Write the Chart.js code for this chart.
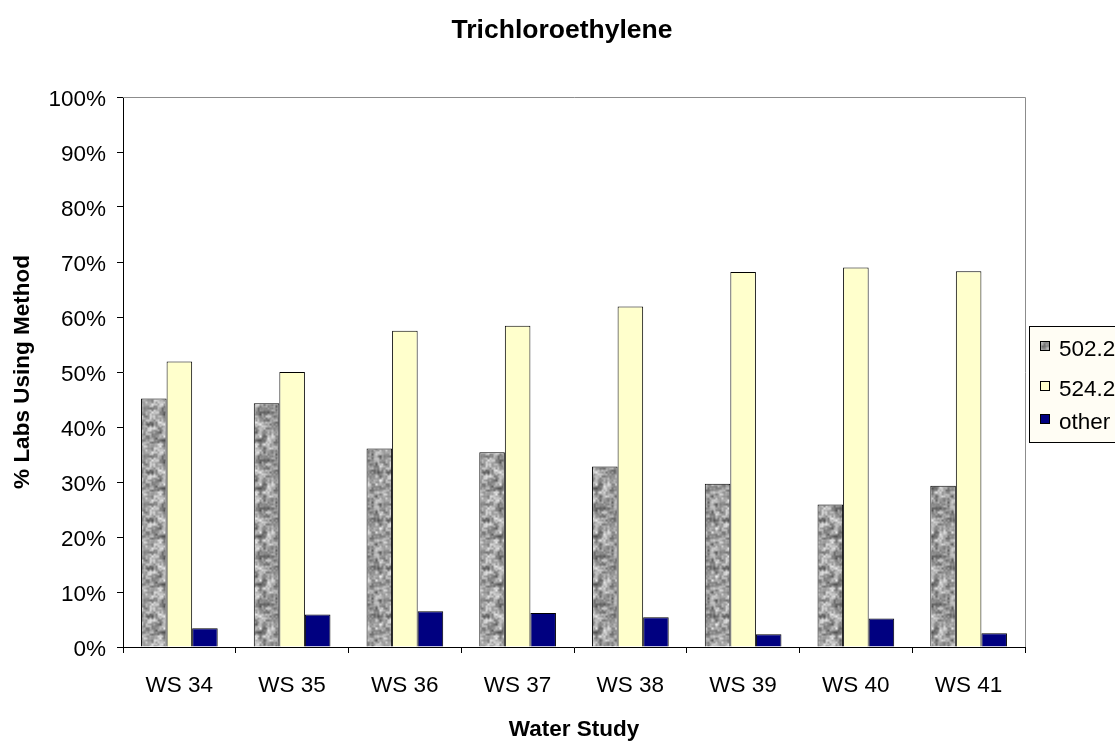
<!DOCTYPE html>
<html><head><meta charset="utf-8">
<script src="https://cdn.jsdelivr.net/npm/chart.js@4"></script>
<style>html,body{margin:0;padding:0;background:#fff;}#wrap{width:1115px;height:744px;position:relative;}</style>
</head><body><div id="wrap"><canvas id="c" width="1115" height="744"></canvas></div>
<script>
// ---- data ----
const categories = ['WS 34','WS 35','WS 36','WS 37','WS 38','WS 39','WS 40','WS 41'];
const seriesNames = ['502.2','524.2','other'];
const values502 = [45.2, 44.3, 36.1, 35.4, 32.8, 29.7, 25.9, 29.3];
const values524 = [51.9, 50.0, 57.5, 58.4, 61.9, 68.2, 69.0, 68.3];
const valuesOther = [3.4, 5.9, 6.5, 6.2, 5.4, 2.3, 5.2, 2.5];
const yTickValues = [0,10,20,30,40,50,60,70,80,90,100];
const chartTitle = 'Trichloroethylene';
const xTitle = 'Water Study';
const yTitle = '% Labs Using Method';

const FONT = "'Liberation Sans', Arial, sans-serif";
const LABEL_SIZE = 22.5;

// textured grey fill (deterministic value noise)
function hash(x, y){ const n = Math.sin(x*127.1 + y*311.7) * 43758.5453; return n - Math.floor(n); }
function makeNoisePattern(ctx){
  const S = 48, c = document.createElement('canvas'); c.width = S; c.height = S;
  const g = c.getContext('2d'); const img = g.createImageData(S, S);
  function octave(px, py, cell, seed){
    const G = S / cell;
    const gx = px / cell, gy = py / cell;
    const x0 = Math.floor(gx), y0 = Math.floor(gy);
    const fx = gx - x0, fy = gy - y0;
    const sx = fx*fx*(3-2*fx), sy = fy*fy*(3-2*fy);
    const v = (i, j) => hash(((i % G) + G) % G + seed, ((j % G) + G) % G + seed*3);
    const a = v(x0,y0), b = v(x0+1,y0), cc = v(x0,y0+1), d = v(x0+1,y0+1);
    return (a*(1-sx)+b*sx)*(1-sy) + (cc*(1-sx)+d*sx)*sy;
  }
  for (let y = 0; y < S; y++) for (let x = 0; x < S; x++){
    const n = 0.6*octave(x,y,4,1) + 0.4*octave(x,y,2,7);
    const gv = Math.max(75, Math.min(235, Math.round(75 + n*170)));
    const k = (y*S + x)*4;
    img.data[k] = gv; img.data[k+1] = gv; img.data[k+2] = gv; img.data[k+3] = 255;
  }
  g.putImageData(img, 0, 0);
  return ctx.createPattern(c, 'repeat');
}

const canvas = document.getElementById('c');
const ctx = canvas.getContext('2d');
const greyPattern = makeNoisePattern(ctx);

const framePlugin = {
  id: 'frame',
  beforeDatasetsDraw(chart){
    const {ctx, chartArea: a} = chart;
    ctx.save();
    ctx.strokeStyle = '#8c8c8c'; ctx.lineWidth = 1;
    ctx.beginPath();
    ctx.moveTo(a.left, Math.round(a.top)+0.5); ctx.lineTo(Math.round(a.right)+0.5, Math.round(a.top)+0.5);
    ctx.lineTo(Math.round(a.right)+0.5, a.bottom);
    ctx.stroke();
    ctx.restore();
  }
};

const titlePlugin = {
  id: 'topTitle',
  afterDraw(chart){
    const {ctx} = chart;
    ctx.save();
    ctx.fillStyle = '#000';
    ctx.font = 'bold 26.5px ' + FONT;
    ctx.textAlign = 'center'; ctx.textBaseline = 'alphabetic';
    ctx.fillText(chartTitle, 562, 37.5);
    ctx.restore();
  }
};

const boxLegend = {
  id: 'boxLegend',
  afterDraw(chart){
    const {ctx} = chart;
    const x0 = 1029, y0 = 326, w = 120, h = 116;
    ctx.save();
    ctx.fillStyle = '#fffdf4';
    ctx.fillRect(x0, y0, w, h);
    ctx.strokeStyle = '#000'; ctx.lineWidth = 1;
    ctx.strokeRect(x0 + 0.5, y0 + 0.5, w, h);
    const rows = [350, 390, 423];
    chart.data.datasets.forEach((ds, i) => {
      const cy = rows[i];
      ctx.fillStyle = ds.backgroundColor;
      ctx.fillRect(1040, cy - 9, 10, 10);
      ctx.strokeStyle = '#000';
      ctx.strokeRect(1040.5, cy - 8.5, 9, 9);
      ctx.fillStyle = '#000';
      ctx.font = LABEL_SIZE + 'px ' + FONT;
      ctx.textBaseline = 'middle'; ctx.textAlign = 'left';
      ctx.fillText(ds.label, 1059, cy);
    });
    ctx.restore();
  }
};

new Chart(ctx, {
  type: 'bar',
  data: {
    labels: categories,
    datasets: [
      { label: seriesNames[0], data: values502, backgroundColor: greyPattern, borderColor: '#000', borderWidth: 1 },
      { label: seriesNames[1], data: values524, backgroundColor: '#ffffcc', borderColor: '#000', borderWidth: 1 },
      { label: seriesNames[2], data: valuesOther, backgroundColor: '#000080', borderColor: '#000', borderWidth: 1 }
    ]
  },
  options: {
    responsive: false,
    animation: false,
    layout: { padding: { left: 0, right: 90, top: 97, bottom: 0 } },
    datasets: { bar: { categoryPercentage: 0.68, barPercentage: 1.0 } },
    plugins: {
      legend: { display: false },
      tooltip: { enabled: false },
      title: { display: false }
    },
    scales: {
      x: {
        grid: { display: true, drawOnChartArea: false, drawTicks: true, tickLength: 6, color: '#000', offset: true },
        border: { display: true, color: '#000', width: 1 },
        ticks: { color: '#000', font: { family: FONT, size: LABEL_SIZE }, padding: 19, maxRotation: 0, autoSkip: false },
        title: { display: true, text: xTitle, color: '#000', font: { family: FONT, size: LABEL_SIZE, weight: 'bold' }, padding: { top: 0, bottom: 0.5 } },
        afterFit(scale){ scale.height = 97; }
      },
      y: {
        min: 0, max: 100,
        afterBuildTicks(scale){ scale.ticks = yTickValues.map(v => ({ value: v })); },
        grid: { display: true, drawOnChartArea: false, drawTicks: true, tickLength: 6, color: '#000' },
        border: { display: true, color: '#000', width: 1 },
        ticks: { color: '#000', font: { family: FONT, size: LABEL_SIZE }, padding: 11, labelOffset: 3, callback: v => v + '%' },
        title: { display: true, text: yTitle, color: '#000', font: { family: FONT, size: LABEL_SIZE, weight: 'bold' }, padding: { top: 9.5, bottom: 0 } },
        afterFit(scale){ scale.width = 123; }
      }
    }
  },
  plugins: [framePlugin, boxLegend, titlePlugin]
});
</script></body></html>
